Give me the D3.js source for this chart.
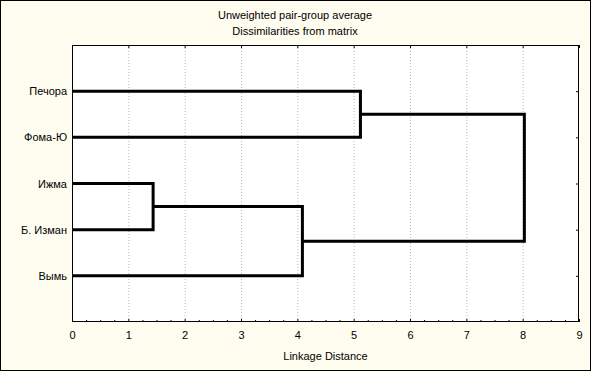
<!DOCTYPE html>
<html>
<head>
<meta charset="utf-8">
<script src="https://cdn.jsdelivr.net/npm/d3@7"></script>
<style>
  body { margin: 0; background: #fffcf0; }
  svg { display: block; font-family: Arial, "Liberation Sans", sans-serif; }
</style>
</head>
<body>
<svg id="chart" width="591" height="371"></svg>
<script>
// Leaves in display order (top to bottom)
var leaves = ["Печора", "Фома-Ю", "Ижма", "Б. Изман", "Вымь"];
// merges: [left child, right child, linkage distance]
var merges = [
  ["Ижма", "Б. Изман", 1.44],
  ["c0", "Вымь", 4.09],
  ["Печора", "Фома-Ю", 5.12],
  ["c2", "c1", 8.03]
];
var xTicks = [0, 1, 2, 3, 4, 5, 6, 7, 8, 9];
var titleLines = ["Unweighted pair-group average", "Dissimilarities from matrix"];
var xTitle = "Linkage Distance";

var W = 591, H = 371,
    plot = { left: 72, right: 579, top: 45, bottom: 322 };

var svg = d3.select("#chart");

// background and frame
svg.append("rect").attr("x", 0.5).attr("y", 0.5)
  .attr("width", W - 1).attr("height", H - 1)
  .attr("fill", "#fffcf0").attr("stroke", "#000");

svg.append("rect")
  .attr("x", plot.left).attr("y", plot.top)
  .attr("width", plot.right - plot.left).attr("height", plot.bottom - plot.top)
  .attr("fill", "#fff");

var x = d3.scaleLinear().domain([0, 9]).range([plot.left, plot.right]);
var y = d3.scalePoint().domain(leaves).range([plot.top, plot.bottom]).padding(1);

// dotted grid
svg.append("g").selectAll("line").data(xTicks.slice(1, -1)).enter()
  .append("line")
  .attr("x1", function (d) { return x(d) + 0.5; })
  .attr("x2", function (d) { return x(d) + 0.5; })
  .attr("y1", plot.top).attr("y2", plot.bottom)
  .attr("stroke", "#b8b8b8").attr("stroke-dasharray", "1,2");

// bottom axis
var bottomAxis = d3.axisBottom(x).tickValues(xTicks).tickSize(0).tickPadding(9)
  .tickFormat(d3.format("d"));
var gx = svg.append("g").attr("transform", "translate(0," + plot.bottom + ")").call(bottomAxis);
gx.select(".domain").remove();
gx.selectAll("text").attr("font-size", 11).attr("fill", "#000");

// minor ticks every 0.25, inside
var minor = d3.range(0, 9.01, 0.25);
svg.append("g").selectAll("line").data(minor).enter()
  .append("line")
  .attr("x1", function (d) { return x(d) + 0.5; })
  .attr("x2", function (d) { return x(d) + 0.5; })
  .attr("y1", plot.bottom).attr("y2", function (d) { return plot.bottom - (d % 1 === 0 ? 3 : 2); })
  .attr("stroke", "#000");

// top ticks at integers, inside
svg.append("g").selectAll("line").data(xTicks).enter()
  .append("line")
  .attr("x1", function (d) { return x(d) + 0.5; })
  .attr("x2", function (d) { return x(d) + 0.5; })
  .attr("y1", plot.top).attr("y2", plot.top + 3)
  .attr("stroke", "#000");

// left labels
var leftAxis = d3.axisLeft(y).tickSize(0).tickPadding(5);
var gy = svg.append("g").attr("transform", "translate(" + plot.left + ",0)").call(leftAxis);
gy.select(".domain").remove();
gy.selectAll("text").attr("font-size", 11).attr("fill", "#000");

// right ticks
svg.append("g").selectAll("line").data(leaves).enter()
  .append("line")
  .attr("x1", plot.right).attr("x2", plot.right - 3)
  .attr("y1", function (d) { return y(d) + 0.5; })
  .attr("y2", function (d) { return y(d) + 0.5; })
  .attr("stroke", "#000");

// plot frame
svg.append("rect")
  .attr("x", plot.left + 0.5).attr("y", plot.top + 0.5)
  .attr("width", plot.right - plot.left - 1).attr("height", plot.bottom - plot.top - 1)
  .attr("fill", "none").attr("stroke", "#000");

// build dendrogram
var nodes = {};
leaves.forEach(function (l) { nodes[l] = { x: 0, y: y(l) }; });
var links = [];
merges.forEach(function (m, i) {
  var a = nodes[m[0]], b = nodes[m[1]], h = x(m[2]);
  links.push([[x(a.x), a.y], [h, a.y], [h, b.y], [x(b.x), b.y]]);
  nodes["c" + i] = { x: m[2], y: (a.y + b.y) / 2 };
});

svg.append("g").selectAll("path").data(links).enter()
  .append("path")
  .attr("d", d3.line())
  .attr("fill", "none")
  .attr("stroke", "#000")
  .attr("stroke-width", 3)
  .attr("stroke-linejoin", "miter");

// titles
svg.append("g").selectAll("text").data(titleLines).enter()
  .append("text")
  .attr("x", 295).attr("y", function (d, i) { return 19 + i * 16; })
  .attr("text-anchor", "middle").attr("font-size", 11)
  .text(function (d) { return d; });

svg.append("text")
  .attr("x", x(4.5)).attr("y", 360)
  .attr("text-anchor", "middle").attr("font-size", 11)
  .text(xTitle);
</script>
</body>
</html>
